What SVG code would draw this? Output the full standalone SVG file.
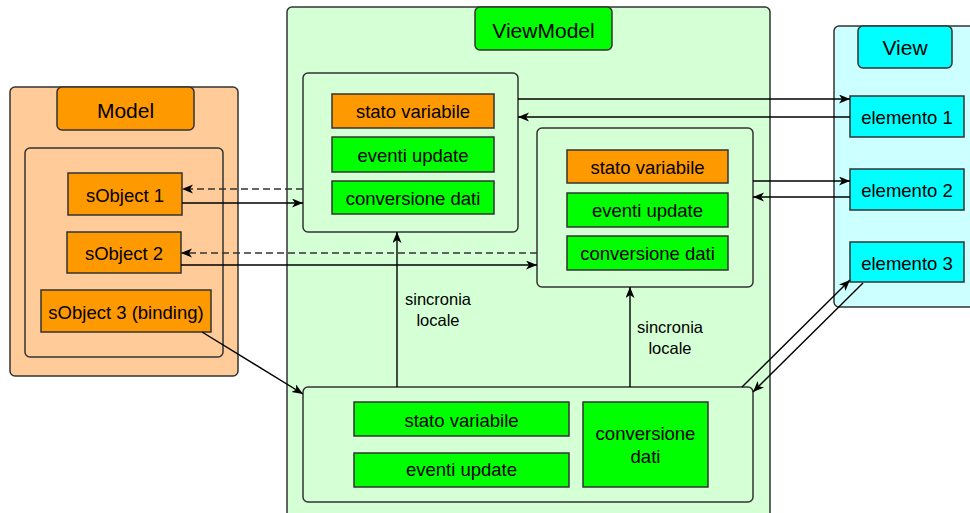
<svg xmlns="http://www.w3.org/2000/svg" width="970" height="513" viewBox="0 0 970 513">
  <defs>
    <marker id="arrow" markerUnits="userSpaceOnUse" markerWidth="12" markerHeight="10" refX="11" refY="4.5" orient="auto">
      <path d="M0,0 L11,4.5 L0,9 L3,4.5 z" fill="#000"/>
    </marker>
    <style>
      text { font-family: "Liberation Sans", Arial, sans-serif; fill: #000; text-anchor: middle; }
      .title { font-size: 21px; }
      .lbl { font-size: 18.5px; }
      .note { font-size: 16.5px; }
      .frame { stroke: #333; stroke-width: 1.5; }
      .item { stroke: #333; stroke-width: 1.5; }
      .model-bg { fill: #ffcc99; }
      .vm-bg { fill: #d5ffd5; }
      .view-bg { fill: #ccffff; }
      .orange { fill: #ff9900; }
      .green { fill: #00ff00; }
      .cyan { fill: #00ffff; }
      .edge { fill: none; stroke: #000; stroke-width: 1.4; marker-end: url(#arrow); }
      .dashed { stroke: #333; stroke-dasharray: 7 4; }
    </style>
  </defs>

  <!-- Model container -->
  <g id="model">
    <rect class="frame model-bg" x="10" y="87" width="228" height="289" rx="5"/>
    <rect class="frame orange" x="57" y="87" width="137" height="43" rx="5"/>
    <text class="title" x="125.5" y="118">Model</text>
    <rect class="frame model-bg" x="25" y="148" width="198" height="209" rx="5"/>
  </g>
  <g id="sobject1">
    <rect class="item orange" x="68" y="173" width="114" height="42"/>
    <text class="lbl" x="125" y="202">sObject 1</text>
  </g>
  <g id="sobject2">
    <rect class="item orange" x="67" y="232" width="114" height="41"/>
    <text class="lbl" x="124" y="259.5">sObject 2</text>
  </g>
  <g id="sobject3">
    <rect class="item orange" x="41" y="290" width="170" height="42"/>
    <text class="lbl" x="126" y="319">sObject 3 (binding)</text>
  </g>

  <!-- ViewModel container -->
  <g id="viewmodel">
    <rect class="frame vm-bg" x="287" y="7" width="483" height="520" rx="5"/>
    <rect class="frame green" x="475" y="7" width="137" height="43" rx="5"/>
    <text class="title" x="543.5" y="38">ViewModel</text>
  </g>
  <g id="vm-block1">
    <rect class="frame vm-bg" x="303" y="73" width="215" height="159" rx="5"/>
    <rect class="item orange" x="332" y="94" width="162" height="34"/>
    <text class="lbl" x="413" y="118">stato variabile</text>
    <rect class="item green" x="332" y="137" width="162" height="35"/>
    <text class="lbl" x="413" y="161.5">eventi update</text>
    <rect class="item green" x="332" y="181" width="162" height="33"/>
    <text class="lbl" x="413" y="204.5">conversione dati</text>
  </g>
  <g id="vm-block2">
    <rect class="frame vm-bg" x="537" y="128" width="216" height="159" rx="5"/>
    <rect class="item orange" x="567" y="150" width="161" height="33"/>
    <text class="lbl" x="647.5" y="173.5">stato variabile</text>
    <rect class="item green" x="567" y="193" width="161" height="34"/>
    <text class="lbl" x="647.5" y="217">eventi update</text>
    <rect class="item green" x="567" y="236" width="161" height="34"/>
    <text class="lbl" x="647.5" y="260">conversione dati</text>
  </g>
  <g id="vm-block3">
    <rect class="frame vm-bg" x="303" y="387" width="450" height="115" rx="5"/>
    <rect class="item green" x="354" y="402" width="215" height="34"/>
    <text class="lbl" x="461.5" y="426.5">stato variabile</text>
    <rect class="item green" x="354" y="453" width="215" height="34"/>
    <text class="lbl" x="461.5" y="476">eventi update</text>
    <rect class="item green" x="583" y="402" width="125" height="85"/>
    <text class="lbl" x="645.5" y="440">conversione</text>
    <text class="lbl" x="645.5" y="462.5">dati</text>
  </g>

  <!-- View container -->
  <g id="view">
    <rect class="frame view-bg" x="834" y="26" width="150" height="281" rx="5"/>
    <rect class="frame cyan" x="858" y="26" width="94" height="42" rx="5"/>
    <text class="title" x="905" y="54.5">View</text>
  </g>
  <g id="elemento1">
    <rect class="item cyan" x="850" y="96" width="114" height="41"/>
    <text class="lbl" x="907" y="124">elemento 1</text>
  </g>
  <g id="elemento2">
    <rect class="item cyan" x="850" y="169" width="114" height="41"/>
    <text class="lbl" x="907" y="197">elemento 2</text>
  </g>
  <g id="elemento3">
    <rect class="item cyan" x="850" y="242" width="114" height="40"/>
    <text class="lbl" x="907" y="269.5">elemento 3</text>
  </g>

  <!-- Connectors -->
  <g id="connectors">
    <path class="edge" d="M518,99 H850"/>
    <path class="edge" d="M850,117 H518"/>
    <path class="edge" d="M753,181 H850"/>
    <path class="edge" d="M850,197 H753"/>
    <path class="edge" d="M742,387 L850,280"/>
    <path class="edge" d="M863,283 L753,392"/>
    <path class="edge dashed" d="M303,189 H182"/>
    <path class="edge" d="M182,203 H303"/>
    <path class="edge dashed" d="M537,253 H181"/>
    <path class="edge" d="M181,265 H537"/>
    <path class="edge" d="M202,332 L303,394"/>
    <path class="edge" d="M397,387 V232"/>
    <path class="edge" d="M630,387 V287"/>
    <text class="note" x="438" y="305">sincronia</text>
    <text class="note" x="438" y="326">locale</text>
    <text class="note" x="670" y="333">sincronia</text>
    <text class="note" x="670" y="354">locale</text>
  </g>
</svg>
